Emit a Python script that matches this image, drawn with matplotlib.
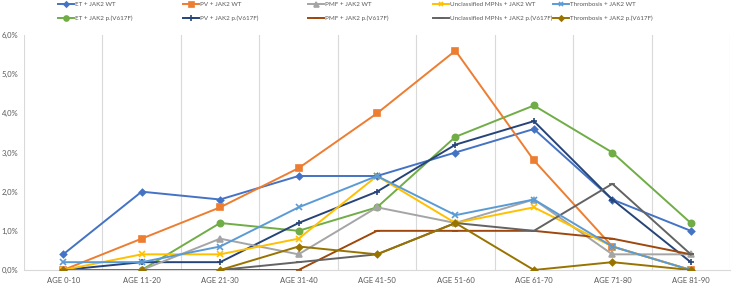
import numpy as np
import matplotlib.pyplot as plt
from matplotlib.ticker import FuncFormatter

plt.rcParams['font.family'] = ['Lato', 'DejaVu Sans']

ages = ['AGE 0-10', 'AGE 11-20', 'AGE 21-30', 'AGE 31-40', 'AGE 41-50',
        'AGE 51-60', 'AGE 61-70', 'AGE 71-80', 'AGE 81-90']

et_wt = [0.4, 2.0, 1.8, 2.4, 2.4, 3.0, 3.6, 1.8, 1.0]
pv_wt = [0.0, 0.8, 1.6, 2.6, 4.0, 5.6, 2.8, 0.6, 0.0]
pmf_wt = [0.0, 0.0, 0.8, 0.4, 1.6, 1.2, 1.8, 0.4, 0.4]
unc_wt = [0.0, 0.4, 0.4, 0.8, 2.4, 1.2, 1.6, 0.6, 0.0]
thr_wt = [0.2, 0.2, 0.6, 1.6, 2.4, 1.4, 1.8, 0.6, 0.0]
et_mut = [0.0, 0.0, 1.2, 1.0, 1.6, 3.4, 4.2, 3.0, 1.2]
pv_mut = [0.0, 0.2, 0.2, 1.2, 2.0, 3.2, 3.8, 1.8, 0.2]
pmf_mut = [0.0, 0.0, 0.0, 0.0, 1.0, 1.0, 1.0, 0.8, 0.4]
unc_mut = [0.0, 0.0, 0.0, 0.2, 0.4, 1.2, 1.0, 2.2, 0.4]
thr_mut = [0.0, 0.0, 0.0, 0.6, 0.4, 1.2, 0.0, 0.2, 0.0]

# (label, values, colour, marker, marker size) - grouped by legend column
series = [
    ('ET + JAK2 WT', et_wt, '#4472C4', 'D', 3.2),
    ('ET + JAK2 p.(V617F)', et_mut, '#70AD47', 'o', 4.5),
    ('PV + JAK2 WT', pv_wt, '#ED7D31', 's', 4.5),
    ('PV + JAK2 p.(V617F)', pv_mut, '#264478', '+', 5),
    ('PMF + JAK2 WT', pmf_wt, '#A5A5A5', '^', 4.5),
    ('PMF + JAK2 p.(V617F)', pmf_mut, '#9E480E', '_', 5),
    ('Unclassified MPNs + JAK2 WT', unc_wt, '#FFC000', 'x', 4.2),
    ('Unclassified MPNs + JAK2 p.(V617F)', unc_mut, '#636363', '_', 5),
    ('Thrombosis + JAK2 WT', thr_wt, '#5B9BD5', 'x', 4.2),
    ('Thrombosis + JAK2 p.(V617F)', thr_mut, '#997300', 'D', 3.2),
]

fig = plt.figure(figsize=(7.33, 2.85), dpi=100)
ax = fig.add_axes([24 / 733, 15 / 285, 706 / 733, 235 / 285])

x = np.arange(len(ages))
lines = []
for label, vals, col, mk, ms in series:
    ln, = ax.plot(x, vals, color=col, lw=1.4, marker=mk, ms=ms, mew=1.2,
                  label=label, zorder=3)
    lines.append(ln)

ax.set_xlim(-0.5, len(ages) - 0.5)
ax.set_ylim(0, 6)
ax.set_yticks(np.arange(0, 7, 1))
ax.yaxis.set_major_formatter(FuncFormatter(lambda v, p: f'{v:.1f}%'.replace('.', ',')))
ax.set_xticks(x)
ax.set_xticklabels(ages)
ax.set_xticks(np.arange(-0.5, len(ages), 1), minor=True)
ax.grid(axis='x', which='minor', color='#D9D9D9', lw=0.8)
ax.tick_params(axis='both', which='both', length=0, colors='#595959', labelsize=5.5)
ax.tick_params(axis='y', pad=4)
ax.tick_params(axis='x', pad=5)

for s in ['top', 'right', 'left']:
    ax.spines[s].set_visible(False)
ax.spines['bottom'].set_color('#D9D9D9')

# legend: five columns of two entries, like the excel legend
col_x = [58, 183, 308, 433, 553]
for i, cx in enumerate(col_x):
    fig.legend(handles=lines[2 * i:2 * i + 2], loc='upper left',
               bbox_to_anchor=(cx / 733, 1 - 1.5 / 285), frameon=False,
               fontsize=4.5, labelcolor='#595959', handlelength=2.6,
               handletextpad=0.12, borderpad=0, borderaxespad=0,
               labelspacing=1.35, markerscale=0.8)

fig.savefig('out.png', dpi=100)
